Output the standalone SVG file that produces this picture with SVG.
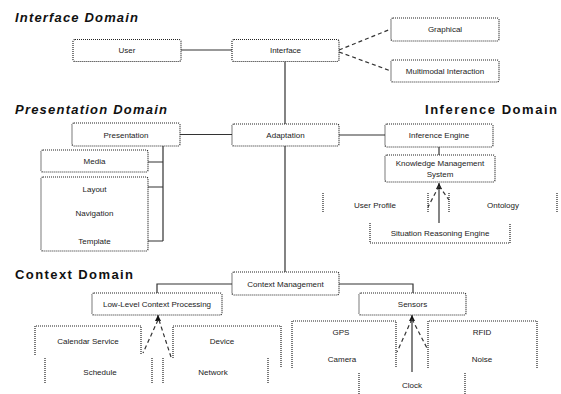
<svg xmlns="http://www.w3.org/2000/svg" width="561" height="394" viewBox="0 0 561 394">
<defs>
<style>
.bx{fill:#fff;stroke:#222;stroke-width:1.2;stroke-dasharray:1 1}
.ob{fill:none;stroke:#222;stroke-width:1.2;stroke-dasharray:1 1}
.cn{fill:none;stroke:#333;stroke-width:1.2}
.dl{fill:none;stroke:#333;stroke-width:1.2;stroke-dasharray:4 3}
.t{font-family:"Liberation Sans",Arial,sans-serif;font-size:8px;fill:#222;text-anchor:middle}
.h{font-family:"Liberation Sans",Arial,sans-serif;font-size:13px;font-weight:bold;fill:#111}
.hi{font-style:italic}
</style>
<marker id="arr" viewBox="0 0 10 10" refX="10" refY="5" markerWidth="6" markerHeight="6" markerUnits="userSpaceOnUse" orient="auto-start-reverse">
<path d="M0,0 L10,5 L0,10 z" fill="#111"/>
</marker>
</defs>
<rect width="561" height="394" fill="#fff"/>

<g id="titles">
<text class="h hi" x="15" y="22" textLength="123">Interface Domain</text>
<text class="h hi" x="15" y="114" textLength="152">Presentation Domain</text>
<text class="h" x="425" y="114" textLength="132">Inference Domain</text>
<text class="h" x="15" y="279" textLength="118">Context Domain</text>
</g>

<g id="connectors">
<path class="cn" d="M181,50 H232"/>
<path class="dl" d="M339,50 L391,29"/>
<path class="dl" d="M339,52 L391,71"/>
<path class="cn" d="M285,61.5 V124 M285,146 V272"/>
<path class="cn" d="M180,134.5 H232"/>
<path class="cn" d="M163,146 V241 M148,162 H163 M148,187 H163 M148,241 H163"/>
<path class="cn" d="M339,135 H385"/>
<path class="cn" d="M439,147 V155"/>
<path class="cn" d="M439,183 V223" marker-start="url(#arr)"/>
<path class="dl" d="M439,186 L428,207 M439,186 L449,200"/>
<path class="cn" d="M232,284 H157 V293 M339,284 H413 V293"/>
<path class="cn" d="M158,315 V320" marker-start="url(#arr)"/>
<path class="dl" d="M158,320 L143,353 M159,320 L171,357"/>
<path class="cn" d="M412,315 V372" marker-start="url(#arr)"/>
<path class="dl" d="M412,319 L397,352 M412,319 L428,350"/>
</g>

<g id="user"><rect class="bx" x="73" y="39.5" width="108" height="22" rx="2"/><text class="t" x="127" y="53">User</text></g>
<g id="interface"><rect class="bx" x="232" y="39.5" width="107" height="22" rx="2"/><text class="t" x="285.5" y="53">Interface</text></g>
<g id="graphical"><rect class="bx" x="391" y="18" width="108" height="23" rx="2"/><text class="t" x="445" y="32">Graphical</text></g>
<g id="multimodal"><rect class="bx" x="391" y="60" width="108" height="22" rx="2"/><text class="t" x="445" y="74">Multimodal Interaction</text></g>

<g id="presentation"><rect class="bx" x="72" y="123" width="108" height="23" rx="2"/><text class="t" x="126" y="137.5">Presentation</text></g>
<g id="adaptation"><rect class="bx" x="232" y="124" width="107" height="22" rx="2"/><text class="t" x="285.5" y="138">Adaptation</text></g>
<g id="media"><rect class="bx" x="41" y="150" width="107" height="22" rx="2"/><text class="t" x="94.5" y="164">Media</text></g>
<g id="layout-group"><rect class="bx" x="41" y="177" width="107" height="74" rx="2"/>
<text class="t" x="94.5" y="192">Layout</text><text class="t" x="94.5" y="216">Navigation</text><text class="t" x="94.5" y="244">Template</text></g>

<g id="inference-engine"><rect class="bx" x="385" y="124" width="108" height="23" rx="2"/><text class="t" x="439" y="138">Inference Engine</text></g>
<g id="knowledge"><rect class="bx" x="385" y="155" width="110" height="27" rx="2"/><text class="t" x="440" y="166">Knowledge Management</text><text class="t" x="440" y="177">System</text></g>
<g id="user-profile"><path class="ob" d="M323,193 V213 M428,193 V213"/><text class="t" x="375" y="208">User Profile</text></g>
<g id="ontology"><path class="ob" d="M449,193 V213 M557,193 V213"/><text class="t" x="503" y="208">Ontology</text></g>
<g id="situation"><path class="ob" d="M370,223 V243 H510 V223"/><text class="t" x="440" y="236">Situation Reasoning Engine</text></g>

<g id="context-manager"><rect class="bx" x="232" y="272" width="107" height="23" rx="2"/><text class="t" x="285.5" y="287">Context Management</text></g>
<g id="context-processing"><rect class="bx" x="92" y="293" width="130" height="22" rx="2"/><text class="t" x="157" y="307">Low-Level Context Processing</text></g>
<g id="sensors"><rect class="bx" x="359" y="293" width="107" height="22" rx="2"/><text class="t" x="412.5" y="307">Sensors</text></g>

<g id="calendar"><path class="ob" d="M35,355 V326 H141 V355"/><text class="t" x="88" y="344">Calendar Service</text></g>
<g id="device"><path class="ob" d="M173,358 V326 H281 V368"/><text class="t" x="222" y="344">Device</text></g>
<g id="schedule"><path class="ob" d="M45,358 V384 M152,358 V384"/><text class="t" x="100" y="375">Schedule</text></g>
<g id="network"><path class="ob" d="M163,358 V384 M268,358 V384"/><text class="t" x="213" y="375">Network</text></g>

<g id="sensor-left"><path class="ob" d="M292,368 V321 H396 V368"/><text class="t" x="341" y="335">GPS</text><text class="t" x="342" y="362">Camera</text></g>
<g id="sensor-right"><path class="ob" d="M428,368 V321 H537 V368"/><text class="t" x="482" y="335">RFID</text><text class="t" x="482" y="362">Noise</text></g>
<g id="clock"><path class="ob" d="M359,373 V394 M465,373 V394"/><text class="t" x="412" y="388">Clock</text></g>
</svg>
